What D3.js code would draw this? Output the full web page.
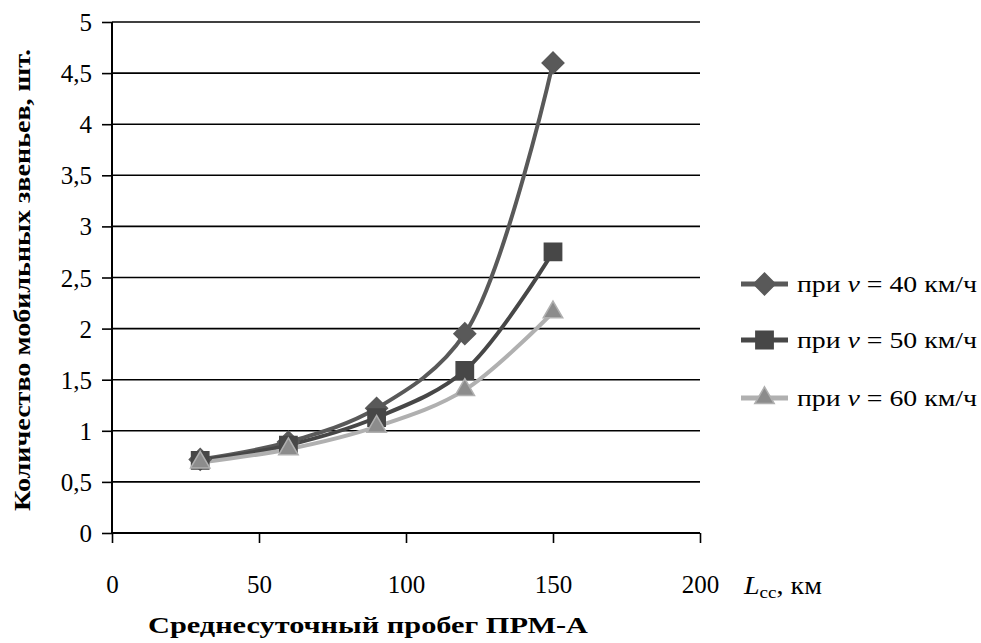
<!DOCTYPE html>
<html>
<head>
<meta charset="utf-8">
<script src="https://cdn.jsdelivr.net/npm/d3@7"></script>
<style>
    body { margin: 0; background: #fff; }
    svg text { font-family: 'Liberation Serif', 'Times New Roman', 'DejaVu Serif', serif; }
</style>
</head>
<body>
<div id="chart_area"></div>
<script>
// Values
const mileage = [30, 60, 90, 120, 150];
const units_40 = [0.72, 0.89, 1.22, 1.95, 4.6];
const units_50 = [0.71, 0.86, 1.13, 1.59, 2.75];
const units_60 = [0.69, 0.82, 1.04, 1.40, 2.16];
const x_ticks = [0, 50, 100, 150, 200];
const y_ticks = [0, 0.5, 1, 1.5, 2, 2.5, 3, 3.5, 4, 4.5, 5];
const legend_labels = ["40", "50", "60"];

const width = 981;
const height = 643;
const FONT = "'Liberation Serif', 'Times New Roman', 'DejaVu Serif', serif";

const series = [
    {values: units_40, label: legend_labels[0], symbol: d3.symbolDiamond2, size: 300, line: "#595959", fill: "#595959", stroke: "#595959"},
    {values: units_50, label: legend_labels[1], symbol: d3.symbolSquare2, size: 380, line: "#474747", fill: "#474747", stroke: "#474747"},
    {values: units_60, label: legend_labels[2], symbol: d3.symbolTriangle2, size: 270, line: "#b0b0b0", fill: "#8c8c8c", stroke: "#b0b0b0"}
];

const svg = d3.select("#chart_area")
    .append("svg")
    .attr("width", width)
    .attr("height", height)
    .style("font-family", FONT);

const x = d3.scaleLinear().domain([0, 200]).range([112, 700]);
const y = d3.scaleLinear().domain([0, 5]).range([533, 22]);

// horizontal grid
svg.append("g")
    .selectAll("line")
    .data(y_ticks.filter(d => d > 0))
    .enter().append("line")
    .attr("x1", x(0)).attr("x2", x(200))
    .attr("y1", d => y(d)).attr("y2", d => y(d))
    .attr("stroke", "#000").attr("stroke-width", 1.6);

// y axis
let y_axis = svg.append("g")
    .attr("transform", "translate(" + x(0) + ",0)")
    .call(d3.axisLeft(y).tickValues(y_ticks).tickSize(10).tickPadding(10)
        .tickFormat(d => String(d).replace(".", ",")));
y_axis.attr("font-family", null);
y_axis.select(".domain").attr("stroke-width", 2).attr("d", "M0," + y(0) + "V" + y(5));
y_axis.selectAll(".tick line").attr("stroke-width", 1.6);
y_axis.selectAll("text").attr("font-size", 25).attr("dy", "0.34em").attr("fill", "#000");

// x axis
let x_axis = svg.append("g")
    .attr("transform", "translate(0," + y(0) + ")")
    .call(d3.axisBottom(x).tickValues(x_ticks).tickSize(10).tickPadding(32));
x_axis.attr("font-family", null);
x_axis.select(".domain").attr("stroke-width", 2).attr("d", "M" + x(0) + ",0H" + x(200));
x_axis.selectAll(".tick line").attr("stroke-width", 1.6);
x_axis.selectAll("text").attr("font-size", 25).attr("fill", "#000");

// unit label next to the x axis
let unit = svg.append("text")
    .attr("x", 744).attr("y", 594)
    .attr("font-size", 25)
    .attr("textLength", 78).attr("lengthAdjust", "spacingAndGlyphs");
unit.append("tspan").attr("font-style", "italic").text("L");
unit.append("tspan").attr("font-size", 17).attr("dy", 4).text("сс");
unit.append("tspan").attr("dy", -4).text(", км");

// axis titles
svg.append("text")
    .attr("x", 368).attr("y", 633)
    .attr("text-anchor", "middle")
    .attr("font-size", 24).attr("font-weight", "bold")
    .attr("textLength", 440).attr("lengthAdjust", "spacingAndGlyphs")
    .text("Среднесуточный пробег ПРМ-А");

svg.append("text")
    .attr("transform", "translate(30,280) rotate(-90)")
    .attr("text-anchor", "middle")
    .attr("font-size", 24).attr("font-weight", "bold")
    .attr("textLength", 462).attr("lengthAdjust", "spacingAndGlyphs")
    .text("Количество мобильных звеньев, шт.");

const line = d3.line()
    .x((d, i) => x(mileage[i]))
    .y(d => y(d))
    .curve(d3.curveCatmullRom.alpha(0.5));

let plot = svg.append("g");
series.forEach(function (s) {
    plot.append("path")
        .datum(s.values)
        .attr("d", line)
        .attr("fill", "none")
        .attr("stroke", s.line)
        .attr("stroke-width", 4);
});
series.forEach(function (s) {
    plot.selectAll(null)
        .data(s.values)
        .enter().append("path")
        .attr("d", d3.symbol().type(s.symbol).size(s.size))
        .attr("transform", (d, i) => "translate(" + x(mileage[i]) + "," + y(d) + ")")
        .attr("fill", s.fill)
        .attr("stroke", s.stroke)
        .attr("stroke-width", 1.5);
});

// legend
let legend = svg.append("g");
series.forEach(function (s, i) {
    let row = legend.append("g").attr("transform", "translate(741," + [284, 340, 398][i] + ")");
    row.append("line").attr("x1", 0).attr("x2", 47)
        .attr("stroke", s.line).attr("stroke-width", 5);
    row.append("path")
        .attr("d", d3.symbol().type(s.symbol).size(s.size))
        .attr("transform", "translate(23.5,0)")
        .attr("fill", s.fill).attr("stroke", s.stroke).attr("stroke-width", 1.5);
    let txt = row.append("text").attr("x", 56).attr("y", 8).attr("font-size", 24)
        .attr("textLength", 180).attr("lengthAdjust", "spacingAndGlyphs");
    txt.append("tspan").text("при ");
    txt.append("tspan").attr("font-style", "italic").text("v");
    txt.append("tspan").text(" = " + s.label + " км/ч");
});
</script>
</body>
</html>
